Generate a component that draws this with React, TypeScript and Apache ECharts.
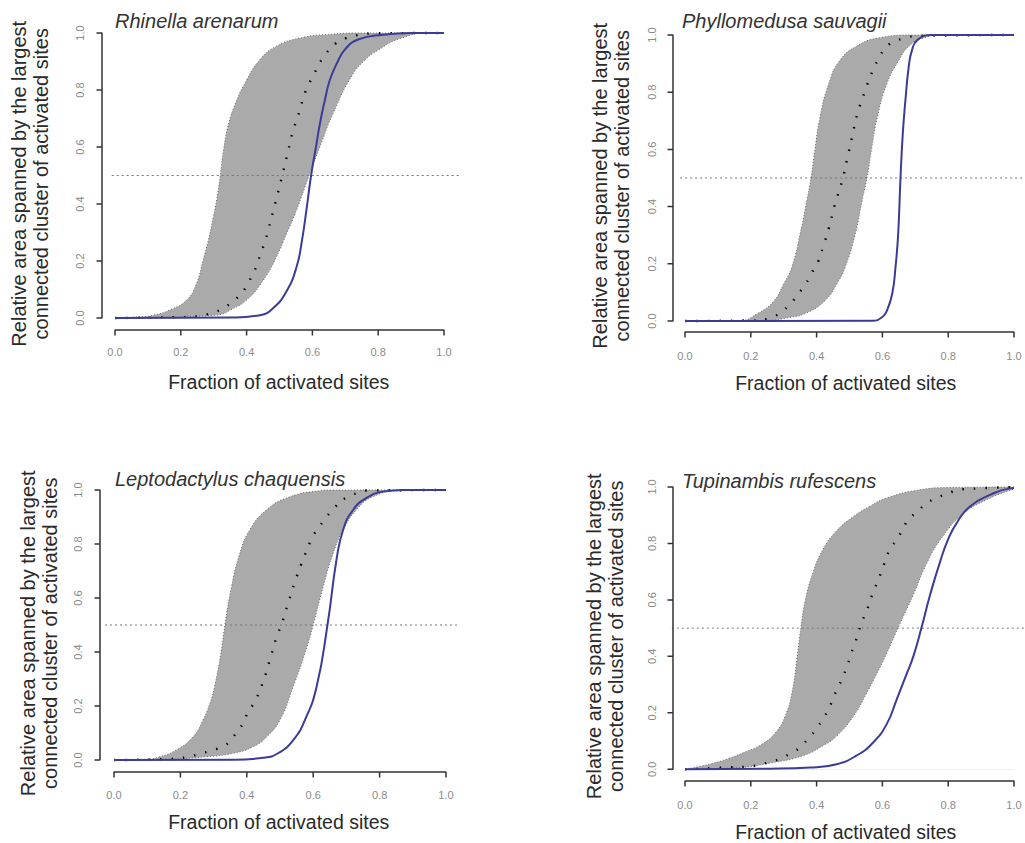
import React, { useEffect, useRef } from "react";
import * as echarts from "echarts";

// ---------- Data ----------
const speciesTitles = [
  "Rhinella arenarum",
  "Phyllomedusa sauvagii",
  "Leptodactylus chaquensis",
  "Tupinambis rufescens",
];
const xAxisTitle = "Fraction of activated sites";
const yAxisTitle = "Relative area spanned by the largest\nconnected cluster of activated sites";
const tickValues = [0, 0.2, 0.4, 0.6, 0.8, 1.0];

// Panel 1 – Rhinella arenarum
const rhinellaUpper = [[0, 0], [0.056, 0.003], [0.117, 0.01], [0.17, 0.03], [0.218, 0.063], [0.248, 0.122], [0.268, 0.204], [0.284, 0.274], [0.299, 0.355], [0.309, 0.414], [0.32, 0.5], [0.33, 0.59], [0.345, 0.68], [0.365, 0.75], [0.395, 0.824], [0.44, 0.906], [0.49, 0.953], [0.56, 0.982], [0.66, 0.996], [0.75, 1], [1, 1]];
const rhinellaLower = [[0, 0], [0.15, 0.002], [0.25, 0.006], [0.319, 0.012], [0.35, 0.028], [0.4, 0.063], [0.451, 0.133], [0.491, 0.215], [0.522, 0.297], [0.552, 0.379], [0.59, 0.5], [0.623, 0.601], [0.663, 0.718], [0.72, 0.85], [0.76, 0.905], [0.8, 0.94], [0.865, 0.98], [0.96, 1], [1, 1]];
const rhinellaMean = [[0, 0], [0.1, 0.001], [0.2, 0.003], [0.248, 0.005], [0.284, 0.014], [0.319, 0.028], [0.35, 0.05], [0.375, 0.075], [0.398, 0.108], [0.415, 0.145], [0.43, 0.182], [0.441, 0.221], [0.454, 0.262], [0.466, 0.31], [0.481, 0.376], [0.491, 0.42], [0.508, 0.498], [0.525, 0.58], [0.542, 0.66], [0.554, 0.7], [0.564, 0.739], [0.574, 0.779], [0.588, 0.818], [0.604, 0.853], [0.62, 0.891], [0.641, 0.927], [0.668, 0.961], [0.698, 0.98], [0.729, 0.991], [0.8, 0.999], [1, 1]];
const rhinellaObserved = [[0, 0], [0.36, 0.002], [0.441, 0.01], [0.481, 0.035], [0.522, 0.095], [0.552, 0.18], [0.568, 0.27], [0.582, 0.38], [0.596, 0.5], [0.611, 0.601], [0.623, 0.683], [0.638, 0.765], [0.653, 0.835], [0.675, 0.895], [0.698, 0.941], [0.739, 0.977], [0.815, 0.994], [0.9, 1], [1, 1]];

// Panel 2 – Phyllomedusa sauvagii
const phyllomedusaUpper = [[0, 0], [0.17, 0.002], [0.22, 0.026], [0.27, 0.07], [0.3, 0.13], [0.325, 0.19], [0.35, 0.305], [0.37, 0.42], [0.383, 0.5], [0.395, 0.6], [0.41, 0.71], [0.437, 0.83], [0.47, 0.91], [0.52, 0.96], [0.59, 0.99], [0.69, 1], [1, 1]];
const phyllomedusaLower = [[0, 0], [0.25, 0.002], [0.315, 0.012], [0.365, 0.026], [0.426, 0.072], [0.462, 0.131], [0.487, 0.189], [0.518, 0.306], [0.538, 0.42], [0.553, 0.5], [0.567, 0.6], [0.585, 0.714], [0.614, 0.831], [0.65, 0.912], [0.68, 0.96], [0.72, 0.988], [0.79, 1], [1, 1]];
const phyllomedusaMean = [[0, 0], [0.2, 0.002], [0.254, 0.008], [0.29, 0.03], [0.32, 0.06], [0.345, 0.096], [0.367, 0.13], [0.385, 0.168], [0.404, 0.206], [0.42, 0.26], [0.437, 0.323], [0.455, 0.405], [0.477, 0.487], [0.492, 0.562], [0.508, 0.644], [0.523, 0.72], [0.546, 0.8], [0.569, 0.872], [0.586, 0.912], [0.604, 0.947], [0.624, 0.97], [0.665, 0.988], [0.71, 0.997], [1, 1]];
const phyllomedusaObserved = [[0, 0], [0.57, 0.001], [0.6, 0.014], [0.614, 0.037], [0.63, 0.096], [0.64, 0.19], [0.648, 0.306], [0.655, 0.5], [0.662, 0.656], [0.67, 0.772], [0.68, 0.889], [0.69, 0.947], [0.706, 0.982], [0.75, 1], [1, 1]];

// Panel 3 – Leptodactylus chaquensis
const leptodactylusUpper = [[0, 0], [0.1, 0.003], [0.138, 0.012], [0.188, 0.037], [0.238, 0.086], [0.268, 0.148], [0.289, 0.21], [0.303, 0.272], [0.322, 0.395], [0.334, 0.5], [0.354, 0.642], [0.379, 0.765], [0.409, 0.852], [0.459, 0.926], [0.53, 0.975], [0.62, 0.997], [0.66, 1], [1, 1]];
const leptodactylusLower = [[0, 0], [0.15, 0.002], [0.278, 0.012], [0.359, 0.025], [0.419, 0.049], [0.46, 0.086], [0.5, 0.148], [0.54, 0.272], [0.575, 0.395], [0.6, 0.5], [0.63, 0.642], [0.66, 0.765], [0.69, 0.852], [0.73, 0.926], [0.78, 0.975], [0.86, 0.997], [0.96, 1], [1, 1]];
const leptodactylusMean = [[0, 0], [0.15, 0.003], [0.218, 0.01], [0.248, 0.019], [0.283, 0.031], [0.314, 0.043], [0.349, 0.068], [0.367, 0.099], [0.389, 0.136], [0.404, 0.179], [0.424, 0.216], [0.449, 0.29], [0.471, 0.377], [0.491, 0.46], [0.504, 0.5], [0.525, 0.583], [0.547, 0.667], [0.572, 0.75], [0.6, 0.83], [0.62, 0.867], [0.64, 0.9], [0.665, 0.936], [0.7, 0.973], [0.736, 0.99], [0.76, 0.998], [1, 1]];
const leptodactylusObserved = [[0, 0], [0.36, 0.001], [0.45, 0.008], [0.494, 0.025], [0.54, 0.074], [0.575, 0.148], [0.61, 0.27], [0.643, 0.5], [0.67, 0.74], [0.69, 0.852], [0.72, 0.926], [0.76, 0.97], [0.81, 0.994], [0.87, 1], [1, 1]];

// Panel 4 – Tupinambis rufescens
const tupinambisUpper = [[0, 0], [0.08, 0.02], [0.13, 0.037], [0.18, 0.06], [0.235, 0.09], [0.275, 0.13], [0.305, 0.19], [0.325, 0.27], [0.34, 0.39], [0.352, 0.5], [0.366, 0.6], [0.39, 0.7], [0.42, 0.78], [0.461, 0.845], [0.512, 0.895], [0.562, 0.932], [0.613, 0.961], [0.714, 0.99], [0.8, 0.998], [1, 1]];
const tupinambisLower = [[0, 0], [0.15, 0.005], [0.258, 0.022], [0.36, 0.049], [0.42, 0.084], [0.461, 0.118], [0.512, 0.188], [0.552, 0.269], [0.583, 0.339], [0.613, 0.41], [0.648, 0.502], [0.694, 0.618], [0.735, 0.73], [0.785, 0.827], [0.846, 0.905], [0.917, 0.955], [1, 0.993]];
const tupinambisMean = [[0, 0], [0.1, 0.005], [0.225, 0.014], [0.255, 0.026], [0.284, 0.035], [0.319, 0.055], [0.35, 0.078], [0.372, 0.105], [0.395, 0.136], [0.415, 0.171], [0.433, 0.206], [0.448, 0.244], [0.461, 0.281], [0.476, 0.316], [0.489, 0.354], [0.5, 0.391], [0.512, 0.434], [0.524, 0.471], [0.534, 0.51], [0.547, 0.548], [0.56, 0.586], [0.571, 0.626], [0.585, 0.664], [0.598, 0.703], [0.61, 0.742], [0.623, 0.78], [0.643, 0.813], [0.662, 0.85], [0.679, 0.885], [0.706, 0.912], [0.733, 0.941], [0.765, 0.961], [0.798, 0.976], [0.831, 0.99], [0.897, 0.995], [1, 1]];
const tupinambisObserved = [[0, 0], [0.258, 0.002], [0.38, 0.006], [0.461, 0.018], [0.522, 0.049], [0.572, 0.095], [0.613, 0.16], [0.643, 0.246], [0.674, 0.339], [0.694, 0.4], [0.719, 0.502], [0.745, 0.618], [0.775, 0.734], [0.8, 0.815], [0.826, 0.873], [0.866, 0.931], [0.927, 0.972], [0.988, 0.995], [1, 0.996]];

const thresholdY = 0.5;
const thresholdExtents = [[-0.01, 1.05], [-0.015, 1.05], [-0.027, 1.042], [-0.04, 1.05]];

// ---------- Layout (pixels) ----------
// left/top/width/height: the 0..1 data square; yOff/xOff: how far the R-style axes sit outside it
const layouts = [
  { left: 115, top: 33, width: 329, height: 285, yOff: 13, xOff: 12, yLab: 22, xLab: 22, yGap: 50, xGap: 42, tLeft: 115, tTop: 11 },
  { left: 685, top: 35, width: 329, height: 286, yOff: 12, xOff: 11, yLab: 21, xLab: 24, yGap: 40, xGap: 41, tLeft: 682, tTop: 11 },
  { left: 114, top: 490, width: 332, height: 270, yOff: 14, xOff: 12, yLab: 22, xLab: 23, yGap: 39, xGap: 40, tLeft: 115, tTop: 469 },
  { left: 685, top: 487, width: 329, height: 287, yOff: 12, xOff: 12, yLab: 21, xLab: 24, yGap: 46, xGap: 41, tLeft: 682, tTop: 471 },
];
const CANVAS_W = 1025;
const TICK_LEN = 5.5;
const EXT_R = 18;
const EXT_T = 2;

const panelData = [
  { upper: rhinellaUpper, lower: rhinellaLower, mean: rhinellaMean, observed: rhinellaObserved },
  { upper: phyllomedusaUpper, lower: phyllomedusaLower, mean: phyllomedusaMean, observed: phyllomedusaObserved },
  { upper: leptodactylusUpper, lower: leptodactylusLower, mean: leptodactylusMean, observed: leptodactylusObserved },
  { upper: tupinambisUpper, lower: tupinambisLower, mean: tupinambisMean, observed: tupinambisObserved },
];

const FONT = "'Liberation Sans', Arial, Helvetica, sans-serif";
const AXIS_COLOR = "#333333";
const TICK_LABEL_COLOR = "#8a8a8a";
const BAND_COLOR = "#aaaaaa";
const BLUE = "#3b3b98";

// R-style axis (line from first to last tick, with outward ticks), expressed in data units
function xAxisTrace(L: any) {
  const b = -L.xOff / L.height;
  const t = TICK_LEN / L.height;
  const pts: number[][] = [];
  tickValues.forEach((v) => { pts.push([v, b], [v, b - t], [v, b]); });
  return pts;
}
function yAxisTrace(L: any) {
  const b = -L.yOff / L.width;
  const t = TICK_LEN / L.width;
  const pts: number[][] = [];
  tickValues.forEach((v) => { pts.push([b, v], [b - t, v], [b, v]); });
  return pts;
}

function buildOption() {
  const grid: any[] = [];
  const xAxis: any[] = [];
  const yAxis: any[] = [];
  const title: any[] = [];
  const series: any[] = [];

  layouts.forEach((L, i) => {
    const extL = L.yOff + TICK_LEN + 1;
    const extB = L.xOff + TICK_LEN + 1;
    const extR = Math.min(EXT_R, CANVAS_W - (L.left + L.width));
    grid.push({
      left: L.left - extL, top: L.top - EXT_T,
      width: L.width + extL + extR, height: L.height + EXT_T + extB, containLabel: false,
    });
    xAxis.push({
      type: "value", gridIndex: i, min: -extL / L.width, max: 1 + extR / L.width, position: "bottom",
      axisLine: { show: false, onZero: false }, axisTick: { show: false }, axisLabel: { show: false },
      splitLine: { show: false },
      name: xAxisTitle, nameLocation: "middle", nameGap: L.xGap - TICK_LEN - 1,
      nameTextStyle: { fontSize: 19.5, color: "#2a2a2a", fontFamily: FONT },
    });
    yAxis.push({
      type: "value", gridIndex: i, min: -extB / L.height, max: 1 + EXT_T / L.height, position: "left",
      axisLine: { show: false, onZero: false }, axisTick: { show: false }, axisLabel: { show: false },
      splitLine: { show: false },
      name: yAxisTitle, nameLocation: "middle", nameGap: L.yGap - TICK_LEN - 1,
      nameTextStyle: { fontSize: 20, lineHeight: 22, color: "#2a2a2a", fontFamily: FONT, align: "center" },
    });
    title.push({
      text: speciesTitles[i], left: L.tLeft, top: L.tTop, padding: 0,
      textStyle: { fontSize: 20, fontStyle: "italic", fontWeight: "normal", color: "#333", fontFamily: FONT },
    });

    const d = panelData[i];
    const common = { xAxisIndex: i, yAxisIndex: i, showSymbol: false, symbol: "none", silent: true };
    series.push({
      ...common, type: "line", name: "upper" + i, data: d.upper, smooth: 0.5,
      lineStyle: { color: "#666", width: 1, type: [1, 2] },
      areaStyle: { color: BAND_COLOR, opacity: 1, origin: "auto" },
    });
    series.push({
      ...common, type: "line", name: "lower" + i, data: d.lower, smooth: 0.5,
      lineStyle: { color: "#666", width: 1, type: [1, 2] },
      areaStyle: { color: "#ffffff", opacity: 1, origin: "auto" },
    });
    series.push({
      ...common, type: "line", name: "threshold" + i,
      data: [[thresholdExtents[i][0], thresholdY], [thresholdExtents[i][1], thresholdY]],
      lineStyle: { color: "#777", width: 1, type: [2, 3] },
    });
    series.push({
      ...common, type: "line", name: "mean" + i, data: d.mean, smooth: 0.5,
      lineStyle: { color: "#000", width: 2.4, type: [1.5, 10] },
    });
    series.push({
      ...common, type: "line", name: "observed" + i, data: d.observed, smooth: 0.5,
      lineStyle: { color: BLUE, width: 2 },
    });
    // axes lines + ticks
    series.push({
      ...common, type: "line", name: "xaxis" + i, data: xAxisTrace(L),
      lineStyle: { color: AXIS_COLOR, width: 1.5 },
    });
    series.push({
      ...common, type: "line", name: "yaxis" + i, data: yAxisTrace(L),
      lineStyle: { color: AXIS_COLOR, width: 1.5 },
    });
    // tick labels
    series.push({
      type: "custom", name: "ticklabels" + i, xAxisIndex: i, yAxisIndex: i, silent: true, clip: false, z: 5,
      data: tickValues.map((v) => [v, v]),
      renderItem: (params: any, api: any) => {
        const v = api.value(0) as number;
        const o = api.coord([0, 0]);
        const px = api.coord([v, 0])[0];
        const py = api.coord([0, v])[1];
        const ax = o[0] - L.yOff;
        const ay = o[1] + L.xOff;
        const ts = { fill: TICK_LABEL_COLOR, fontSize: 11, fontFamily: FONT, align: "center", verticalAlign: "middle" };
        return {
          type: "group",
          children: [
            { type: "text", x: px, y: ay + L.xLab, style: { ...ts, text: v.toFixed(1) } },
            { type: "text", x: ax - L.yLab, y: py, rotation: Math.PI / 2, style: { ...ts, text: v.toFixed(1) } },
          ],
        };
      },
    });
  });

  return { animation: false, backgroundColor: "#ffffff", grid, xAxis, yAxis, title, series };
}

export default function App() {
  const ref = useRef<HTMLDivElement>(null);
  useEffect(() => {
    if (!ref.current) return;
    const chart = echarts.init(ref.current, undefined, { renderer: "svg" });
    chart.setOption(buildOption() as any);
    return () => chart.dispose();
  }, []);
  return (
    <div
      ref={ref}
      style={{ position: "fixed", left: 0, top: 0, width: 1025, height: 843, background: "#fff" }}
    />
  );
}
